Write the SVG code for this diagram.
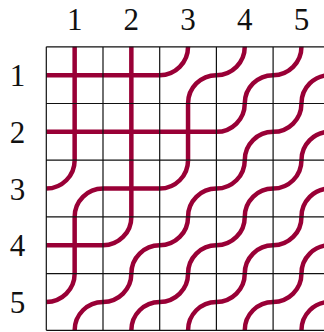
<svg xmlns="http://www.w3.org/2000/svg" width="324" height="332" viewBox="0 0 324 332">
<style>
.lbl{font-family:"Liberation Serif","Times New Roman",serif;font-size:31px;fill:#111;text-anchor:middle}
.w{fill:none;stroke:#990036;stroke-width:4.5;stroke-linecap:butt}
.g{fill:none;stroke:#111;stroke-width:1.2}
</style>
<rect width="324" height="332" fill="#fff"/>
<g id="col-labels">
<text class="lbl" x="74.65" y="30">1</text>
<text class="lbl" x="131.35" y="30">2</text>
<text class="lbl" x="188.05" y="30">3</text>
<text class="lbl" x="244.75" y="30">4</text>
<text class="lbl" x="301.45" y="30">5</text>
</g>
<g id="row-labels">
<text class="lbl" x="17.5" y="86.3">1</text>
<text class="lbl" x="17.5" y="143">2</text>
<text class="lbl" x="17.5" y="199.7">3</text>
<text class="lbl" x="17.5" y="256.4">4</text>
<text class="lbl" x="17.5" y="313.1">5</text>
</g>
<g id="tiles" transform="translate(46.3,46.8)">
<g id="r1c1"><path class="w" d="M0 28.35H56.7M28.35 0V56.7"/></g>
<g id="r1c2"><path class="w" d="M56.7 28.35H113.4M85.05 0V56.7"/></g>
<g id="r1c3"><path class="w" d="M141.75 0A28.35 28.35 0 0 1 113.4 28.35M141.75 56.7A28.35 28.35 0 0 1 170.1 28.35"/></g>
<g id="r1c4"><path class="w" d="M198.45 0A28.35 28.35 0 0 1 170.1 28.35M198.45 56.7A28.35 28.35 0 0 1 226.8 28.35"/></g>
<g id="r1c5"><path class="w" d="M255.15 0A28.35 28.35 0 0 1 226.8 28.35M255.15 56.7A28.35 28.35 0 0 1 283.5 28.35"/></g>
<g id="r2c1"><path class="w" d="M0 85.05H56.7M28.35 56.7V113.4"/></g>
<g id="r2c2"><path class="w" d="M56.7 85.05H113.4M85.05 56.7V113.4"/></g>
<g id="r2c3"><path class="w" d="M113.4 85.05H170.1M141.75 56.7V113.4"/></g>
<g id="r2c4"><path class="w" d="M198.45 56.7A28.35 28.35 0 0 1 170.1 85.05M198.45 113.4A28.35 28.35 0 0 1 226.8 85.05"/></g>
<g id="r2c5"><path class="w" d="M255.15 56.7A28.35 28.35 0 0 1 226.8 85.05M255.15 113.4A28.35 28.35 0 0 1 283.5 85.05"/></g>
<g id="r3c1"><path class="w" d="M28.35 113.4A28.35 28.35 0 0 1 0 141.75M28.35 170.1A28.35 28.35 0 0 1 56.7 141.75"/></g>
<g id="r3c2"><path class="w" d="M56.7 141.75H113.4M85.05 113.4V170.1"/></g>
<g id="r3c3"><path class="w" d="M141.75 113.4A28.35 28.35 0 0 1 113.4 141.75M141.75 170.1A28.35 28.35 0 0 1 170.1 141.75"/></g>
<g id="r3c4"><path class="w" d="M198.45 113.4A28.35 28.35 0 0 1 170.1 141.75M198.45 170.1A28.35 28.35 0 0 1 226.8 141.75"/></g>
<g id="r3c5"><path class="w" d="M255.15 113.4A28.35 28.35 0 0 1 226.8 141.75M255.15 170.1A28.35 28.35 0 0 1 283.5 141.75"/></g>
<g id="r4c1"><path class="w" d="M0 198.45H56.7M28.35 170.1V226.8"/></g>
<g id="r4c2"><path class="w" d="M85.05 170.1A28.35 28.35 0 0 1 56.7 198.45M85.05 226.8A28.35 28.35 0 0 1 113.4 198.45"/></g>
<g id="r4c3"><path class="w" d="M141.75 170.1A28.35 28.35 0 0 1 113.4 198.45M141.75 226.8A28.35 28.35 0 0 1 170.1 198.45"/></g>
<g id="r4c4"><path class="w" d="M198.45 170.1A28.35 28.35 0 0 1 170.1 198.45M198.45 226.8A28.35 28.35 0 0 1 226.8 198.45"/></g>
<g id="r4c5"><path class="w" d="M255.15 170.1A28.35 28.35 0 0 1 226.8 198.45M255.15 226.8A28.35 28.35 0 0 1 283.5 198.45"/></g>
<g id="r5c1"><path class="w" d="M28.35 226.8A28.35 28.35 0 0 1 0 255.15M28.35 283.5A28.35 28.35 0 0 1 56.7 255.15"/></g>
<g id="r5c2"><path class="w" d="M85.05 226.8A28.35 28.35 0 0 1 56.7 255.15M85.05 283.5A28.35 28.35 0 0 1 113.4 255.15"/></g>
<g id="r5c3"><path class="w" d="M141.75 226.8A28.35 28.35 0 0 1 113.4 255.15M141.75 283.5A28.35 28.35 0 0 1 170.1 255.15"/></g>
<g id="r5c4"><path class="w" d="M198.45 226.8A28.35 28.35 0 0 1 170.1 255.15M198.45 283.5A28.35 28.35 0 0 1 226.8 255.15"/></g>
<g id="r5c5"><path class="w" d="M255.15 226.8A28.35 28.35 0 0 1 226.8 255.15M255.15 283.5A28.35 28.35 0 0 1 283.5 255.15"/></g>
</g>
<g id="grid" transform="translate(46.3,46.8)">
<path class="g" d="M0 0H283.5M0 56.7H283.5M0 113.4H283.5M0 170.1H283.5M0 226.8H283.5M0 283.5H283.5M0 0V283.5M56.7 0V283.5M113.4 0V283.5M170.1 0V283.5M226.8 0V283.5M283.5 0V283.5"/>
</g>
</svg>
